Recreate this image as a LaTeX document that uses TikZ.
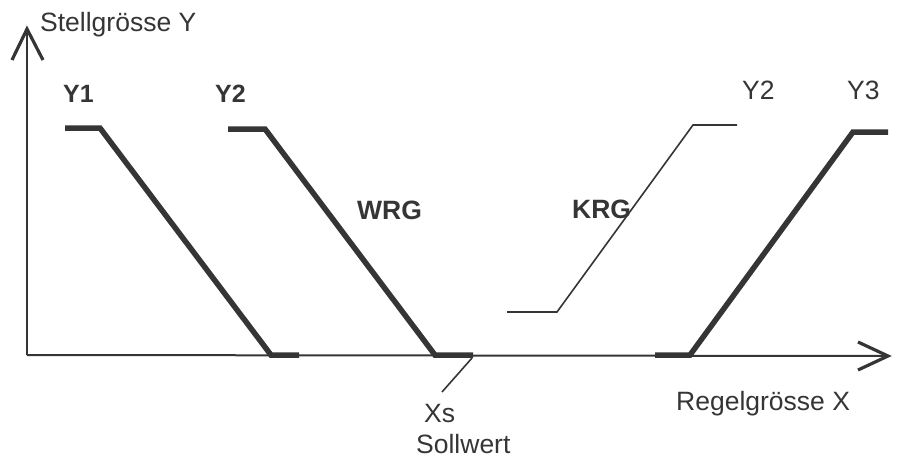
\documentclass[tikz,border=0pt]{standalone}
\usepackage{fontspec}
\setmainfont{Liberation Sans}
\definecolor{ink}{HTML}{353535}
\begin{document}
\begin{tikzpicture}[x=1pt,y=-1pt,
  thick curve/.style={draw=ink,line width=5.5pt,line join=miter},
  thin curve/.style={draw=ink,line width=1.6pt},
  axis/.style={draw=ink,line width=2pt},
  head/.style={draw=ink,line width=3.2pt,line join=miter},
  lbl/.style={inner sep=0pt,anchor=base west,text=ink,font=\fontsize{26.5}{30}\selectfont},
  blbl/.style={inner sep=0pt,anchor=base west,text=ink,font=\fontsize{25}{30}\selectfont\bfseries},
  wlbl/.style={blbl,font=\fontsize{26.5}{30}\selectfont\bfseries}]
\useasboundingbox (0,0) rectangle (898,459);
% axes
\coordinate (O) at (27,355);
\coordinate (ytip) at (27,29);
\coordinate (xtip) at (888,356);
\draw[axis] (O) -- (ytip);
\draw[axis] (O) -- (xtip);
\draw[head] (12,60) -- (ytip) -- (43,60);
\draw[head] (858,342) -- (xtip) -- (858,370);
% curves
\draw[thick curve] (65,128) -- (100,128) -- (271,355) -- (299,355);
\draw[thick curve] (228,129) -- (265,129) -- (435,355) -- (473,355);
\draw[thick curve] (655,355) -- (690,355) -- (853,132) -- (888,132);
\draw[thin curve] (507,312) -- (557,312) -- (693,125) -- (737,125);
% Xs leader
\coordinate (xs) at (472,358);
\coordinate (xsend) at (442,392);
\draw[thin curve] (xs) -- (xsend);
% labels
\node[lbl] (sy) at (40,31) {Stellgrösse Y};
\node[blbl] (y1) at (63,102) {Y1};
\node[blbl] (y2a) at (215,102) {Y2};
\node[wlbl] (wrg) at (357,219) {WRG};
\node[wlbl] (krg) at (572,218) {KRG};
\node[lbl] (y2b) at (742,99) {Y2};
\node[lbl] (y3) at (847,99) {Y3};
\node[lbl] (xs lbl) at (424,422) {Xs};
\node[lbl] (soll) at (416,453) {Sollwert};
\node[lbl] (rx) at (676,410) {Regelgrösse X};
\end{tikzpicture}
\end{document}
